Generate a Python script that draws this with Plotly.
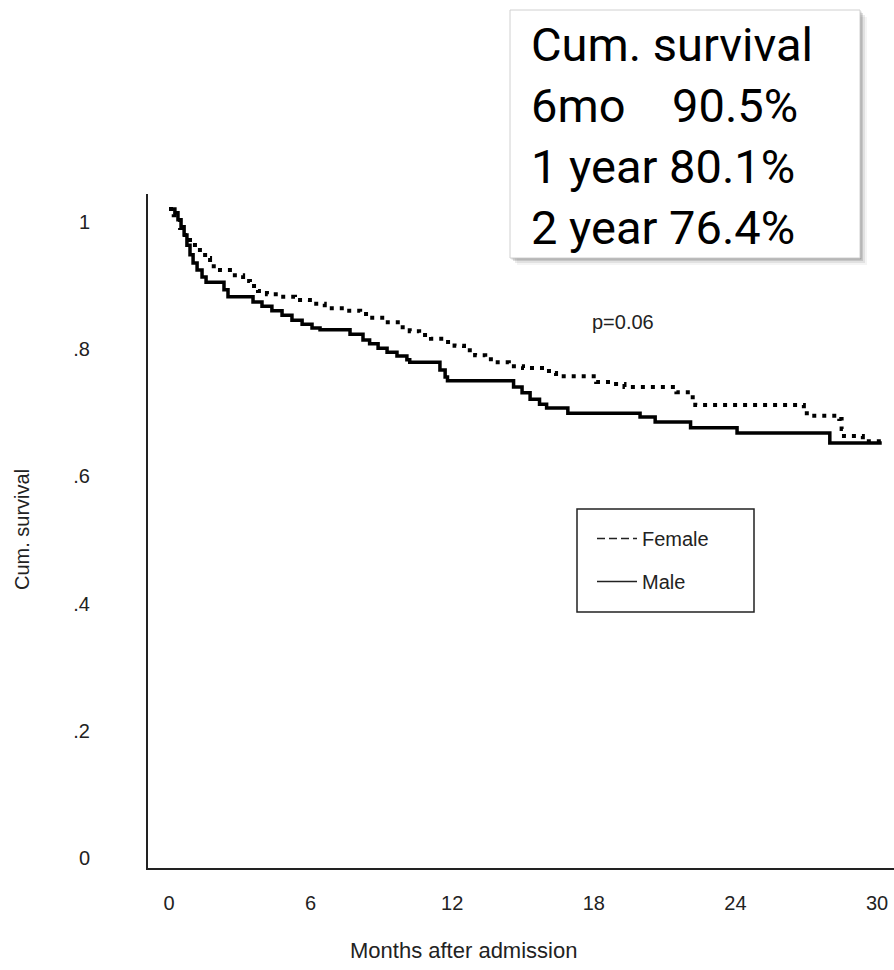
import plotly.graph_objects as go

# Kaplan-Meier step estimates by sex (months after admission, cumulative survival)
male_months = [0, 0.25, 0.38, 0.51, 0.64, 0.76, 0.89, 1.02, 1.19, 1.40, 1.57, 2.33, 2.50,
               3.56, 3.94, 4.36, 4.79, 5.21, 5.64, 6.06, 6.40, 7.67, 8.22, 8.50, 8.86,
               9.24, 9.66, 10.08, 10.20, 11.48, 11.70, 11.80, 14.60, 14.96, 15.30, 15.70,
               16.00, 16.90, 19.96, 20.60, 22.10, 24.07, 28.00, 30.20]
male_surv = [1.000, 0.994, 0.983, 0.972, 0.959, 0.943, 0.928, 0.915, 0.904, 0.893, 0.885,
             0.873, 0.862, 0.854, 0.847, 0.840, 0.833, 0.825, 0.819, 0.813, 0.810, 0.803,
             0.794, 0.788, 0.781, 0.775, 0.769, 0.763, 0.759, 0.747, 0.736, 0.730, 0.720,
             0.711, 0.701, 0.693, 0.687, 0.679, 0.673, 0.665, 0.656, 0.648, 0.632, 0.632]

female_months = [0, 0.20, 0.47, 0.68, 0.89, 1.10, 1.31, 1.53, 1.74, 2.16, 2.67, 3.14, 3.43,
                 3.77, 4.15, 4.70, 5.34, 5.97, 6.60, 7.46, 8.10, 8.50, 9.15, 9.79, 10.20,
                 10.60, 11.10, 11.70, 12.10, 12.50, 12.97, 13.40, 13.80, 14.40, 15.00, 16.10,
                 16.40, 18.10, 18.70, 19.30, 21.50, 22.10, 22.30, 26.90, 27.20, 28.40, 28.50,
                 28.60, 29.40, 30.20]
female_surv = [1.000, 0.990, 0.970, 0.959, 0.948, 0.939, 0.931, 0.923, 0.910, 0.904, 0.896,
               0.887, 0.879, 0.871, 0.866, 0.862, 0.857, 0.851, 0.844, 0.840, 0.835, 0.829,
               0.822, 0.814, 0.808, 0.802, 0.796, 0.791, 0.785, 0.778, 0.770, 0.764, 0.759,
               0.753, 0.750, 0.742, 0.737, 0.728, 0.725, 0.720, 0.712, 0.704, 0.692, 0.679,
               0.675, 0.670, 0.654, 0.643, 0.635, 0.635]

x_ticks = [0, 6, 12, 18, 24, 30]
y_ticks = [0, 0.2, 0.4, 0.6, 0.8, 1.0]
y_tick_labels = ["0", ".2", ".4", ".6", ".8", "1"]

summary_title = "Cum. survival"
summary_labels = ["6mo", "1 year", "2 year"]
summary_values = ["90.5%", "80.1%", "76.4%"]
summary_gaps = [4, 1, 1]
p_value_text = "p=0.06"

# page geometry (pixels) of the plotting area
W, H = 894, 970
L, R, T, B = 148, 894, 194, 868


def px(x):
    return (x - L) / (R - L)


def py(y):
    return (B - y) / (B - T)


AX_FONT = "Liberation Sans"
TXT = "#222222"

fig = go.Figure()

fig.add_trace(go.Scatter(
    x=female_months, y=female_surv, mode="lines", line_shape="hv",
    line=dict(color="#000000", width=4, dash="4px,6px"), showlegend=False,
))
fig.add_trace(go.Scatter(
    x=male_months, y=male_surv, mode="lines", line_shape="hv",
    line=dict(color="#000000", width=3.5), showlegend=False,
))

# legend keys
fig.add_trace(go.Scatter(
    x=[None], y=[None], mode="lines", name="Female", legendgroup="f",
    line=dict(color=TXT, width=1.5, dash="8px,4px"),
))
fig.add_trace(go.Scatter(
    x=[None], y=[None], mode="lines", name="Male", legendgroup="m",
    line=dict(color=TXT, width=1.5),
))

shapes = []
# legend frame
shapes.append(dict(type="rect", xref="paper", yref="paper",
                   x0=px(577), x1=px(754), y0=py(612), y1=py(509),
                   line=dict(color=TXT, width=1.5), fillcolor="rgba(0,0,0,0)"))

# summary box with soft drop shadow
bx0, bx1, by0, by1 = 510, 860, 10, 258
for k, op in [(7, 0.06), (5, 0.10), (3, 0.16), (1.5, 0.22)]:
    shapes.append(dict(type="rect", xref="paper", yref="paper", layer="above",
                       x0=px(bx0 + k), x1=px(bx1 + k), y0=py(by1 + k), y1=py(by0 + k),
                       line=dict(width=0), fillcolor=f"rgba(60,60,60,{op})"))
shapes.append(dict(type="rect", xref="paper", yref="paper", layer="above",
                   x0=px(bx0), x1=px(bx1), y0=py(by1), y1=py(by0),
                   line=dict(color="#d0d0d0", width=1), fillcolor="#ffffff"))

BOX_FONT = dict(family="Roboto, sans-serif", size=47, color="#000000")

summary_lines = [summary_title] + [
    lab + "\u00a0" * g + val for lab, g, val in zip(summary_labels, summary_gaps, summary_values)
]

annotations = [
    dict(text="Cum. survival", x=px(22), y=py(530), xref="paper", yref="paper",
         xanchor="center", yanchor="middle",
         textangle=-90, showarrow=False, font=dict(family=AX_FONT, size=20, color=TXT)),
    dict(text="Months after admission", x=px(463), y=py(950), xref="paper", yref="paper",
         xanchor="center", yanchor="middle",
         showarrow=False, font=dict(family=AX_FONT, size=22, color=TXT)),
    dict(text=p_value_text, x=px(623), y=py(322), xref="paper", yref="paper",
         xanchor="center", yanchor="middle",
         showarrow=False, font=dict(family=AX_FONT, size=20, color=TXT)),
    dict(text="<br>".join(summary_lines), x=px(529), y=py(136), xref="paper", yref="paper",
         xanchor="left", yanchor="middle", align="left", showarrow=False, font=BOX_FONT),
]

fig.update_layout(
    width=W, height=H, autosize=False,
    margin=dict(l=L, r=W - R, t=T, b=H - B),
    paper_bgcolor="#ffffff", plot_bgcolor="#ffffff",
    shapes=shapes, annotations=annotations,
    showlegend=True,
    legend=dict(x=px(592), y=py(519), xanchor="left", yanchor="top",
                bgcolor="rgba(0,0,0,0)", borderwidth=0,
                traceorder="grouped", tracegroupgap=14, itemwidth=40,
                font=dict(family=AX_FONT, size=20, color=TXT)),
    xaxis=dict(range=[-0.89, 30.72], tickvals=x_ticks, showgrid=False, zeroline=False,
               showline=True, linecolor=TXT, linewidth=2, ticks="",
               ticklabelstandoff=16, tickfont=dict(family=AX_FONT, size=20, color=TXT)),
    yaxis=dict(range=[-0.036, 1.0236], tickvals=y_ticks, ticktext=y_tick_labels,
               showgrid=False, zeroline=False, showline=True, linecolor=TXT, linewidth=2,
               ticks="", ticklabelstandoff=52, ticklabelshift=13,
               tickfont=dict(family=AX_FONT, size=20, color=TXT)),
)

fig.write_html("out.html")
